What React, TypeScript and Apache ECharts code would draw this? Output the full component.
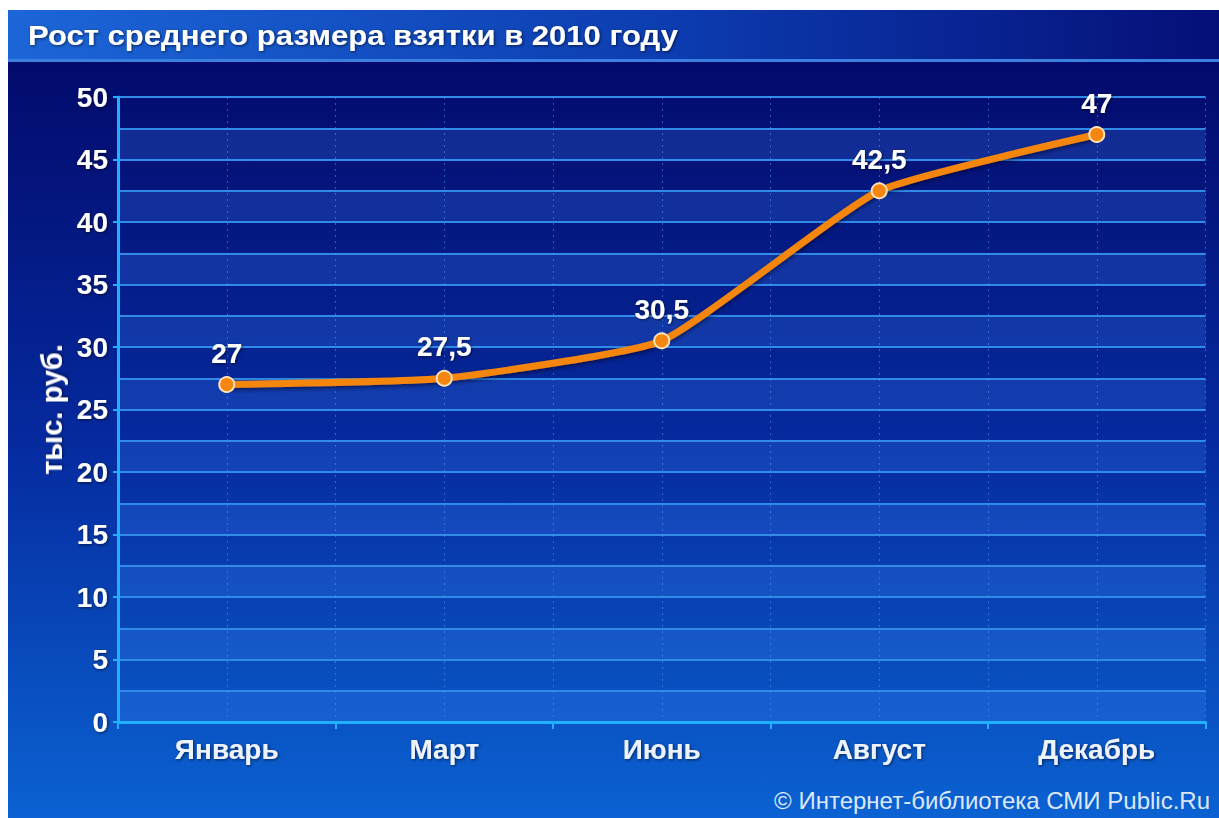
import React, { useEffect, useRef } from "react";
import * as echarts from "echarts";

const titleText = "Рост среднего размера взятки в 2010 году";
const creditText = "© Интернет-библиотека СМИ Public.Ru";
const yAxisName = "тыс. руб.";
const categories = ["Январь", "Март", "Июнь", "Август", "Декабрь"];
const values = [27, 27.5, 30.5, 42.5, 47];
const yMin = 0;
const yMax = 50;
const yStep = 5;
const yBandStep = 2.5;

const FONT = "'Liberation Sans', Arial, sans-serif";

export default function App() {
  const ref = useRef<HTMLDivElement>(null);
  useEffect(() => {
    document.body.style.margin = "0";
    const chart = echarts.init(ref.current!, undefined, { renderer: "svg" });
    const shadow = { textShadowColor: "rgba(0,0,20,0.6)", textShadowBlur: 3, textShadowOffsetX: 1, textShadowOffsetY: 1 };
    chart.setOption({
      animation: false,
      backgroundColor: "#ffffff",
      textStyle: { fontFamily: FONT },
      graphic: [
        {
          type: "rect", z: -100, silent: true,
          shape: { x: 8, y: 60, width: 1211, height: 758 },
          style: {
            fill: new echarts.graphic.LinearGradient(0, 0, 0, 1, [
              { offset: 0, color: "#030a6c" },
              { offset: 0.5, color: "#052a9e" },
              { offset: 1, color: "#0b62d2" },
            ]),
          },
        },
        {
          type: "rect", z: -100, silent: true,
          shape: { x: 8, y: 10, width: 1211, height: 50 },
          style: {
            fill: new echarts.graphic.LinearGradient(0, 0, 1, 0, [
              { offset: 0, color: "#1c66d8" },
              { offset: 0.55, color: "#0c3cb0" },
              { offset: 1, color: "#050f78" },
            ]),
          },
        },
        {
          type: "rect", z: -99, silent: true,
          shape: { x: 8, y: 59, width: 1211, height: 3 },
          style: { fill: "#3a80e0" },
        },
        {
          type: "text", z: 10, x: 28, y: 36, scaleX: 1.15,
          style: { text: titleText, fill: "#ffffff", fontSize: 27, fontWeight: "bold", fontFamily: FONT, verticalAlign: "middle", align: "left", ...shadow },
        },
        {
          type: "text", z: 10, x: 1210, y: 800,
          style: { text: creditText, fill: "#dce8fa", fontSize: 24, fontFamily: FONT, align: "right", verticalAlign: "middle" },
        },
      ],
      grid: { left: 118, right: 13.5, top: 97, bottom: 96, containLabel: false },
      xAxis: [
        {
          type: "category",
          data: categories,
          boundaryGap: true,
          axisLine: { show: true, lineStyle: { color: "#20b0ff", width: 3 } },
          axisTick: { show: true, length: 7, lineStyle: { color: "#20b0ff", width: 2 } },
          axisLabel: { color: "#eef3fb", fontSize: 28, fontWeight: "bold", margin: 13, fontFamily: FONT, ...shadow },
          splitLine: { show: false },
          z: 5,
        },
        {
          type: "value",
          min: 0,
          max: 10,
          interval: 1,
          position: "bottom",
          axisLine: { show: false },
          axisTick: { show: false },
          axisLabel: { show: false },
          splitLine: { show: true, lineStyle: { color: "rgba(80,150,240,0.55)", width: 1, type: [2, 4] } },
        },
      ],
      yAxis: [
        {
          type: "value",
          min: yMin,
          max: yMax,
          interval: yStep,
          name: yAxisName,
          nameLocation: "middle",
          nameGap: 52,
          nameTextStyle: { color: "#ffffff", fontSize: 29, fontWeight: "bold", fontFamily: FONT, ...shadow },
          axisLine: { show: true, lineStyle: { color: "#20b0ff", width: 3 } },
          axisTick: { show: true, length: 5, lineStyle: { color: "#20b0ff", width: 2 } },
          axisLabel: { color: "#ffffff", fontSize: 28, fontWeight: "bold", margin: 10, fontFamily: FONT, ...shadow },
          splitLine: { show: false },
          z: 5,
        },
        {
          type: "value",
          min: yMin,
          max: yMax,
          interval: yBandStep,
          axisLine: { show: false },
          axisTick: { show: false },
          axisLabel: { show: false },
          splitLine: { show: true, lineStyle: { color: "#2f8ae8", width: 2 } },
          splitArea: { show: true, areaStyle: { color: ["rgba(70,140,255,0.22)", "rgba(0,0,0,0)"] } },
        },
      ],
      series: [
        {
          type: "line",
          xAxisIndex: 0,
          yAxisIndex: 0,
          data: values,
          smooth: 0.15,
          symbol: "circle",
          symbolSize: 15,
          z: 10,
          lineStyle: { color: "#f5860f", width: 7, shadowColor: "rgba(0,0,30,0.6)", shadowBlur: 4, shadowOffsetY: 2 },
          itemStyle: { color: "#f5860f", borderColor: "#ffe2b8", borderWidth: 2 },
          label: {
            show: true,
            position: "top",
            distance: 9,
            color: "#ffffff",
            fontSize: 28,
            fontWeight: "bold",
            fontFamily: FONT,
            ...shadow,
            formatter: (p: any) => String(p.value).replace(".", ","),
          },
        },
      ],
    });
    return () => chart.dispose();
  }, []);
  return <div ref={ref} style={{ width: 1219, height: 818 }} />;
}
